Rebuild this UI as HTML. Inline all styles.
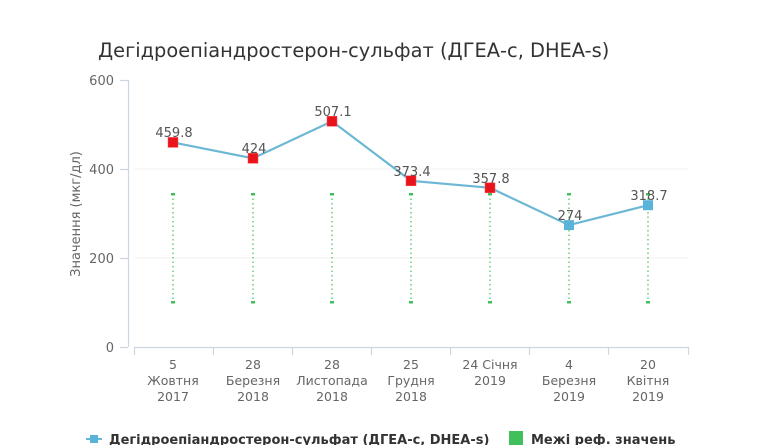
<!DOCTYPE html>
<html><head><meta charset="utf-8"><style>
html,body{margin:0;padding:0;background:#fff;}
svg{display:block;font-family:"DejaVu Sans","Liberation Sans",sans-serif;}
</style></head><body>
<svg width="770" height="445" viewBox="0 0 770 445">
<text x="98" y="57" font-size="19.4" fill="#333">Дегідроепіандростерон-сульфат (ДГЕА-с, DHEA-s)</text>
<g stroke="#f2f2f2" stroke-width="1">
<line x1="134" y1="258" x2="688" y2="258"/><line x1="134" y1="169" x2="688" y2="169"/>
</g>
<g stroke="#ccd6e0" stroke-width="1.2" fill="none">
<line x1="128.5" y1="80" x2="128.5" y2="347"/>
<line x1="120" y1="80.5" x2="128" y2="80.5"/><line x1="120" y1="169.5" x2="128" y2="169.5"/>
<line x1="120" y1="258.5" x2="128" y2="258.5"/><line x1="120" y1="347.5" x2="128" y2="347.5"/>
<line x1="134" y1="347.5" x2="688" y2="347.5"/>
<line x1="134.5" y1="347" x2="134.5" y2="355"/><line x1="213.5" y1="347" x2="213.5" y2="355"/>
<line x1="292.5" y1="347" x2="292.5" y2="355"/><line x1="371.5" y1="347" x2="371.5" y2="355"/>
<line x1="450.5" y1="347" x2="450.5" y2="355"/><line x1="529.5" y1="347" x2="529.5" y2="355"/>
<line x1="608.5" y1="347" x2="608.5" y2="355"/><line x1="688.5" y1="347" x2="688.5" y2="355"/>
</g>
<g font-size="13" fill="#666" text-anchor="end">
<text x="114" y="85">600</text><text x="114" y="174">400</text><text x="114" y="263">200</text><text x="114" y="352">0</text>
</g>
<text transform="translate(80,214) rotate(-90)" font-size="13" fill="#666" text-anchor="middle">Значення (мкг/дл)</text>
<g stroke="#3fc05a" stroke-width="1.2" stroke-dasharray="1.5,3">
<line x1="173" y1="194" x2="173" y2="302"/><line x1="253" y1="194" x2="253" y2="302"/>
<line x1="332" y1="194" x2="332" y2="302"/><line x1="411" y1="194" x2="411" y2="302"/>
<line x1="490" y1="194" x2="490" y2="302"/><line x1="569" y1="194" x2="569" y2="302"/>
<line x1="648" y1="194" x2="648" y2="302"/>
</g>
<g fill="#3fc05a">
<rect x="171" y="193" width="4" height="2.5"/><rect x="171" y="301" width="4" height="2.5"/>
<rect x="251" y="193" width="4" height="2.5"/><rect x="251" y="301" width="4" height="2.5"/>
<rect x="330" y="193" width="4" height="2.5"/><rect x="330" y="301" width="4" height="2.5"/>
<rect x="409" y="193" width="4" height="2.5"/><rect x="409" y="301" width="4" height="2.5"/>
<rect x="488" y="193" width="4" height="2.5"/><rect x="488" y="301" width="4" height="2.5"/>
<rect x="567" y="193" width="4" height="2.5"/><rect x="567" y="301" width="4" height="2.5"/>
<rect x="646" y="193" width="4" height="2.5"/><rect x="646" y="301" width="4" height="2.5"/>
</g>
<polyline points="173,142.4 253,158.3 332,121.3 411,180.8 490,187.8 569,225.1 648,205.2" fill="none" stroke="#6cb8d4" stroke-width="2.2"/>
<g fill="#e8141c" stroke="#ff5050" stroke-width="0.5">
<rect x="168" y="137.4" width="10" height="10"/><rect x="248" y="153.3" width="10" height="10"/>
<rect x="327" y="116.3" width="10" height="10"/><rect x="406" y="175.8" width="10" height="10"/>
<rect x="485" y="182.8" width="10" height="10"/>
</g>
<g fill="#5ab3d8"><rect x="564" y="220.1" width="10" height="10"/><rect x="643" y="200.2" width="10" height="10"/></g>
<g font-size="13" fill="#555" text-anchor="middle">
<text x="174" y="137">459.8</text><text x="254" y="153">424</text><text x="333" y="116">507.1</text>
<text x="412" y="176">373.4</text><text x="491" y="183">357.8</text><text x="570" y="220">274</text><text x="649" y="200">318.7</text>
</g>
<g font-size="12.5" fill="#666" text-anchor="middle">
<text x="173" y="369">5</text><text x="173" y="385">Жовтня</text><text x="173" y="401">2017</text>
<text x="253" y="369">28</text><text x="253" y="385">Березня</text><text x="253" y="401">2018</text>
<text x="332" y="369">28</text><text x="332" y="385">Листопада</text><text x="332" y="401">2018</text>
<text x="411" y="369">25</text><text x="411" y="385">Грудня</text><text x="411" y="401">2018</text>
<text x="490" y="369">24 Січня</text><text x="490" y="385">2019</text>
<text x="569" y="369">4</text><text x="569" y="385">Березня</text><text x="569" y="401">2019</text>
<text x="648" y="369">20</text><text x="648" y="385">Квітня</text><text x="648" y="401">2019</text>
</g>
<line x1="86" y1="439" x2="102" y2="439" stroke="#6cb8d4" stroke-width="2"/>
<rect x="90" y="435" width="8" height="8" fill="#5ab3d8"/>
<text x="109" y="444" font-size="13" font-weight="bold" fill="#333">Дегідроепіандростерон-сульфат (ДГЕА-с, DHEA-s)</text>
<rect x="509" y="431" width="14" height="14" fill="#3fc05a"/>
<text x="531" y="444" font-size="13" font-weight="bold" fill="#333">Межі реф. значень</text>
</svg>
</body></html>
